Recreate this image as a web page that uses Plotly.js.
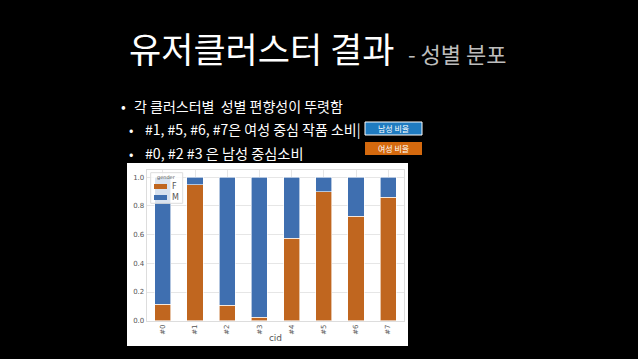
<!DOCTYPE html>
<html><head><meta charset="utf-8">
<script src="https://cdn.plot.ly/plotly-3.0.1.min.js"></script>
<style>html,body{margin:0;padding:0;background:#000;}#chart{width:638px;height:359px;}</style>
</head><body><div id="chart"></div>
<script>
const categories = ['#0','#1','#2','#3','#4','#5','#6','#7'];
const femaleShare = [0.115, 0.947, 0.108, 0.025, 0.575, 0.900, 0.728, 0.862];
const maleShare   = [0.885, 0.053, 0.892, 0.975, 0.425, 0.100, 0.272, 0.138];
const seriesNames = ['F', 'M'];
const seriesColors = ['#c0661f', '#3f6fb0'];
const yTicks = [0.0, 0.2, 0.4, 0.6, 0.8, 1.0];

const W = 638, H = 359;
const px = v => v / W, py = v => 1 - v / H;
const KR = '"Noto Sans CJK KR", "Noto Sans", sans-serif';

const traces = [
  {type:'bar', name:seriesNames[0], x:categories, y:femaleShare, marker:{color:seriesColors[0], line:{color:'#ffffff', width:0.6}}, width:0.5, showlegend:false},
  {type:'bar', name:seriesNames[1], x:categories, y:maleShare, marker:{color:seriesColors[1], line:{color:'#ffffff', width:0.6}}, width:0.5, showlegend:false}
];

const ann = (text, x, y, size, color, extra) => Object.assign({text, x:px(x), y:py(y), xref:'paper', yref:'paper', xanchor:'left', yanchor:'middle', showarrow:false, font:{family:KR, size, color}}, extra||{});
const rect = (x0, x1, y0, y1, fill, line) => ({type:'rect', xref:'paper', yref:'paper', x0:px(x0), x1:px(x1), y0:py(y1), y1:py(y0), fillcolor:fill, line:line||{width:0}});

const legendShapes = [
  rect(150.7, 182.7, 172.7, 203.3, 'rgba(255,255,255,0.8)', {color:'#dddddd', width:1}),
  rect(154, 167, 184, 189, seriesColors[0]),
  rect(154, 167, 195, 200, seriesColors[1])
];
const legendTexts = [
  {text:'gender', x:px(166), y:py(177.5), xref:'paper', yref:'paper', xanchor:'center', yanchor:'middle', showarrow:false, font:{family:'DejaVu Sans', size:5, color:'#555'}},
  ann(seriesNames[0], 170, 186.5, 8, '#555', {font:{family:'DejaVu Sans', size:8, color:'#555'}}),
  ann(seriesNames[1], 170, 197.5, 8, '#555', {font:{family:'DejaVu Sans', size:8, color:'#555'}})
];

const layout = {
  width:W, height:H, paper_bgcolor:'#000000', plot_bgcolor:'#ffffff',
  margin:{l:0,r:0,t:0,b:0},
  barmode:'stack', bargap:0.5, showlegend:false,
  xaxis:{domain:[px(146.7), px(404.3)], range:[-0.5,7.5], type:'category', tickangle:-90,
    showgrid:true, gridcolor:'#e6e6e6', tickfont:{family:'DejaVu Sans', size:7, color:'#555'},
    ticks:'', showline:true, linecolor:'#dddddd', mirror:true, zeroline:false,
    title:{text:'cid', font:{family:'DejaVu Sans', size:9, color:'#555'}, standoff:0}},
  yaxis:{domain:[py(320.7), py(170.1)], range:[0,1.05], tickvals:yTicks, tickformat:'.1f',
    showgrid:true, gridcolor:'#e6e6e6', tickfont:{family:'DejaVu Sans', size:7, color:'#555'},
    ticks:'', showline:true, linecolor:'#dddddd', mirror:true, zeroline:false},
  shapes:[
    Object.assign(rect(127, 408, 163, 346, '#ffffff'), {layer:'below'}),
    rect(365, 422, 122, 135, '#1f7bc0', {color:'#ffffff', width:1}),
    rect(365, 422, 142, 155, '#d4690e')
  ].concat(legendShapes),
  annotations:[
    ann('유저클러스터 결과', 127, 48, 35, '#ffffff'),
    ann('- 성별 분포', 406, 53, 22, '#bdbdbd'),
    ann('•', 119, 106, 14, '#ffffff'),
    ann('각 클러스터별  성별 편향성이 뚜렷함', 132, 106, 14, '#ffffff'),
    ann('•', 127, 129, 13, '#ffffff'),
    ann('#1, #5, #6, #7은 여성 중심 작품 소비|', 143, 129, 14, '#ffffff'),
    ann('•', 127, 153, 13, '#ffffff'),
    ann('#0, #2 #3 은 남성 중심소비', 143, 153, 14.2, '#ffffff'),
    {text:'남성 비율', x:px(393.5), y:py(128.5), xref:'paper', yref:'paper', xanchor:'center', yanchor:'middle', showarrow:false, font:{family:KR, size:8, color:'#ffffff'}},
    {text:'여성 비율', x:px(393.5), y:py(148.5), xref:'paper', yref:'paper', xanchor:'center', yanchor:'middle', showarrow:false, font:{family:KR, size:8, color:'#ffffff'}}
  ].concat(legendTexts)
};
Plotly.newPlot('chart', traces, layout, {displayModeBar:false, staticPlot:true});
</script></body></html>
